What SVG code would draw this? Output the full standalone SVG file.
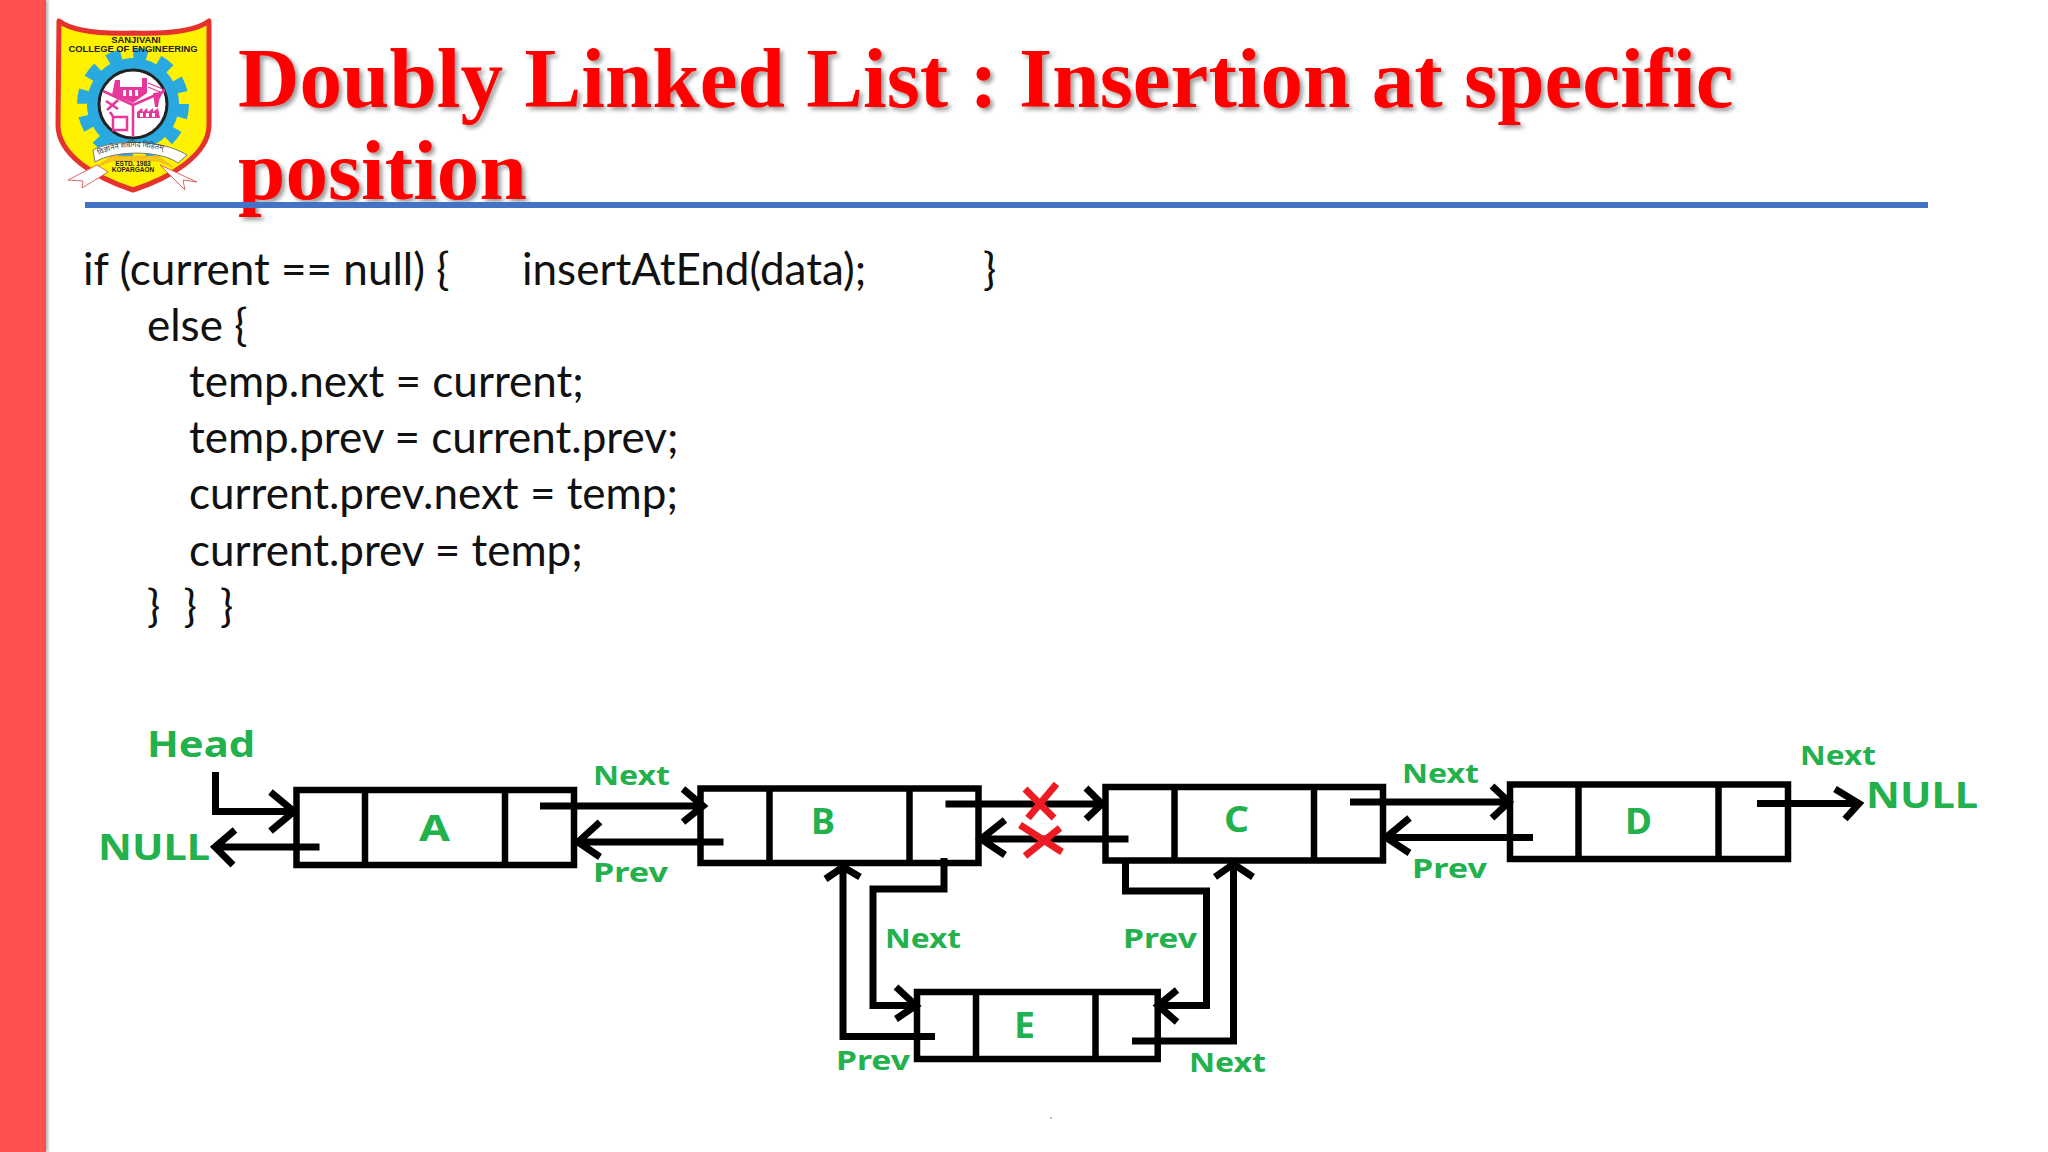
<svg xmlns="http://www.w3.org/2000/svg" width="2048" height="1152" viewBox="0 0 2048 1152">
<defs>
<filter id="ts" x="-5%" y="-20%" width="110%" height="140%"><feDropShadow dx="3" dy="3" stdDeviation="2" flood-color="#000" flood-opacity="0.4"/></filter>
<filter id="bs" x="-20%" y="-5%" width="140%" height="110%"><feDropShadow dx="2" dy="0" stdDeviation="1.5" flood-color="#000" flood-opacity="0.3"/></filter>
<path id="arc" d="M95 158C115 143 160 143 184 160"/>
</defs>
<style>
.title{font:bold 85.200px "Liberation Serif",serif;fill:#f00}
.code{font:44px Lato,sans-serif;fill:#111}
.box{fill:none;stroke:#000;stroke-width:6.500}
.div{stroke:#000;stroke-width:6.500}
.c{fill:none;stroke:#000;stroke-width:7}
.x{fill:none;stroke:#ed1c24;stroke-width:7}
.l{font:bold 26px "Noto Sans",sans-serif;fill:#22b14c}
.n{font:bold 36px "Noto Sans",sans-serif;fill:#22b14c}
.lg{font:bold 9.400px "Liberation Sans",sans-serif;fill:#222;text-anchor:middle}
.ls{font:bold 6.500px "Liberation Sans",sans-serif;fill:#222;text-anchor:middle}
.dv{font:7.500px "Noto Sans",sans-serif;fill:#333}
.pk{fill:#e6379b}
</style>
<rect width="2048" height="1152" fill="#fff"/>
<rect x="0" y="0" width="46" height="1152" fill="#ff5050" filter="url(#bs)"/>

<g id="logo">
<path d="M59 21C72 31 100 34 133 33C166 34 196 31 209 21L209 125C209 155 170 178 133 190C96 178 58 155 58 125Z" fill="#fff200" stroke="#e5322d" stroke-width="5" stroke-linejoin="round"/>
<circle cx="133" cy="104" r="46" fill="#29a9df"/>
<circle cx="133" cy="104" r="50.500" fill="none" stroke="#29a9df" stroke-width="11" stroke-dasharray="14 12.440"/>
<circle cx="133" cy="104" r="34" fill="#fff" stroke="#222" stroke-width="3"/>
<path d="M133 105L133 136M133 105L103 91M133 105L165 91" fill="none" stroke="#e6379b" stroke-width="2.500"/>
<path class="pk" d="M112 95L115 80H120V87H142V78H147V93L133 103Z"/>
<path fill="#fff" d="M123 90H126V96H123ZM129 90H132V96H129ZM135 90H138V96H135Z"/>
<path d="M148 83L165 90M148 87L160 92" fill="none" stroke="#e6379b" stroke-width="1.200"/>
<path class="pk" d="M153 93L163 92L159 100L158 107H155Z"/>
<path class="pk" d="M137 118V112L142 108L143 112L147 108L148 112L153 108L153 112L158 108L160 118Z"/>
<path fill="#fff" d="M140 113H143V117H140ZM146 113H149V117H146ZM152 113H155V117H152Z"/>
<path d="M106 101L118 109M118 100L107 110M113 117H127V130H113ZM110 112L114 118" fill="none" stroke="#e6379b" stroke-width="2.500"/>
<path d="M96 167L112 156H158L173 167L158 161H112Z" fill="#f9c51a" stroke="#e5a01a" stroke-width="0.500"/>
<path d="M93 150C110 140 160 138 187 155L178 163C160 150 115 150 95 162Z" fill="#fff" stroke="#777" stroke-width="1"/>
<path d="M97 165L68 180L83 181L82 188L108 172Z" fill="#fff" stroke="#d66" stroke-width="1"/>
<path d="M160 165L197 182L183 180L185 190L168 173Z" fill="#fff" stroke="#d66" stroke-width="1"/>
<text class="dv"><textPath href="#arc" startOffset="5">विज्ञानेन शर्वगिदं विहितम्</textPath></text>
<text class="lg" x="136" y="43">SANJIVANI</text>
<text class="lg" x="133" y="52">COLLEGE OF ENGINEERING</text>
<text class="ls" x="133" y="166">ESTD. 1983</text>
<text class="ls" x="133" y="172">KOPARGAON</text>
</g>

<g id="heading">
<text class="title" x="238" y="107" filter="url(#ts)">Doubly Linked List : Insertion at specific</text>
<text class="title" x="238" y="199" filter="url(#ts)">position</text>
<rect x="85" y="202" width="1843" height="6" fill="#4472c4"/>
<circle cx="1051" cy="1118" r="1" fill="#aaa"/>
</g>

<g id="code">
<text class="code" x="83" y="285">if (current == null) {</text>
<text class="code" x="522" y="285">insertAtEnd(data);</text>
<text class="code" x="983" y="285">}</text>
<text class="code" x="147" y="341">else {</text>
<text class="code" x="189" y="397">temp.next = current;</text>
<text class="code" x="189" y="453">temp.prev = current.prev;</text>
<text class="code" x="189" y="509">current.prev.next = temp;</text>
<text class="code" x="189" y="566">current.prev = temp;</text>
<text class="code" x="147" y="622" word-spacing="12">} } }</text>
</g>

<g id="node-a"><rect class="box" x="296.500" y="790" width="277.500" height="75"/><path class="div" d="M365 790V865M505 790V865"/><text class="n" x="419" y="841" textLength="31" lengthAdjust="spacingAndGlyphs">A</text></g>
<g id="node-b"><rect class="box" x="700.500" y="788.500" width="278" height="74.500"/><path class="div" d="M769.500 788V863M909.500 788V863"/><text class="n" x="811" y="834" textLength="24" lengthAdjust="spacingAndGlyphs">B</text></g>
<g id="node-c"><rect class="box" x="1105.500" y="787" width="277.500" height="73.500"/><path class="div" d="M1174.500 787V860M1314 787V860"/><text class="n" x="1224" y="832" textLength="25" lengthAdjust="spacingAndGlyphs">C</text></g>
<g id="node-d"><rect class="box" x="1510" y="784.500" width="278" height="74.500"/><path class="div" d="M1578.500 784V859M1718.500 784V859"/><text class="n" x="1625" y="834" textLength="27" lengthAdjust="spacingAndGlyphs">D</text></g>
<g id="node-e"><rect class="box" x="917" y="992" width="240.700" height="67"/><path class="div" d="M976 992V1059M1095.500 992V1059"/><text class="n" x="1014" y="1038" textLength="21" lengthAdjust="spacingAndGlyphs">E</text></g>

<g id="connectors">
<path class="c" d="M215.500 772V811.500H294M270.500 792L294 811.500L270.500 831"/>
<path class="c" d="M319.500 847H215M235 830L215 847L233 865"/>
<path class="c" d="M540 806H703M683 789L703 806L683 822"/>
<path class="c" d="M723.500 842H578M600 822L578 842L600 857"/>
<path class="c" d="M945.500 804H1102M1086 788L1102 804L1086 819"/>
<path class="c" d="M1128.500 839H981M1005 820L981 839L1005 855"/>
<path class="c" d="M1350 802H1509M1492 786L1509 802L1492 818"/>
<path class="c" d="M1533 837.500H1386M1409.500 818L1386 837.500L1409.500 853"/>
<path class="c" d="M1757 803.500H1859M1835 789L1859 803.500L1845 819"/>
<path class="c" d="M944 858V889H873V1005.500H916M896 987L916 1005.500L896 1019"/>
<path class="c" d="M935 1036.500H843V867M825.500 879L843 867L860 877"/>
<path class="c" d="M1125.500 863V891H1206.500V1005.500H1158M1177 990L1158 1005.500L1177 1022"/>
<path class="c" d="M1132 1041H1233.500V864M1215 877L1233.500 864L1253 877"/>
<path class="x" d="M1056.500 784L1028 818M1025 789L1054 818"/>
<path class="x" d="M1060 828L1025 856M1020 825L1062 852"/>
</g>

<g id="labels">
<text class="n" x="147" y="757" textLength="108" lengthAdjust="spacingAndGlyphs">Head</text>
<text class="n" x="98" y="860" textLength="112" lengthAdjust="spacingAndGlyphs">NULL</text>
<text class="l" x="593" y="785" textLength="77" lengthAdjust="spacingAndGlyphs">Next</text>
<text class="l" x="593" y="882" textLength="75" lengthAdjust="spacingAndGlyphs">Prev</text>
<text class="l" x="1402" y="783" textLength="77" lengthAdjust="spacingAndGlyphs">Next</text>
<text class="l" x="1412" y="878" textLength="75" lengthAdjust="spacingAndGlyphs">Prev</text>
<text class="l" x="1800" y="765" textLength="76" lengthAdjust="spacingAndGlyphs">Next</text>
<text class="n" x="1866" y="808" textLength="112" lengthAdjust="spacingAndGlyphs">NULL</text>
<text class="l" x="885" y="948" textLength="76" lengthAdjust="spacingAndGlyphs">Next</text>
<text class="l" x="1123" y="948" textLength="74" lengthAdjust="spacingAndGlyphs">Prev</text>
<text class="l" x="836" y="1070" textLength="74" lengthAdjust="spacingAndGlyphs">Prev</text>
<text class="l" x="1189" y="1072" textLength="77" lengthAdjust="spacingAndGlyphs">Next</text>
</g>
</svg>
